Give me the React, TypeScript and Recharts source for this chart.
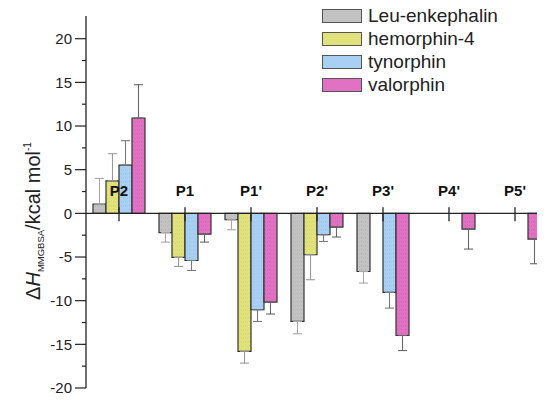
import React from 'react';
import { BarChart, Bar, XAxis, YAxis, ErrorBar, ReferenceLine, Legend } from 'recharts';

const FONT = "Arial, 'Liberation Sans', Helvetica, sans-serif";

const categories = ["P2", "P1", "P1'", "P2'", "P3'", "P4'", "P5'"];

const leuEnkephalin = [1.07, -2.2, -0.73, -12.38, -6.66, null, null];
const leuEnkephalinErr = [2.93, 1.1, 1.15, 1.41, 1.32, null, null];
const hemorphin4 = [3.73, -5.05, -15.8, -4.74, null, null, null];
const hemorphin4Err = [3.1, 1.03, 1.35, 2.86, null, null, null];
const tynorphin = [5.53, -5.4, -11.04, -2.45, -9.06, null, null];
const tynorphinErr = [2.79, 1.14, 1.34, 0.77, 1.79, null, null];
const valorphin = [10.92, -2.37, -10.16, -1.57, -13.99, -1.8, -2.94];
const valorphinErr = [3.81, 0.92, 1.37, 1.14, 1.72, 2.29, 2.83];

const yTicks = [-20, -17.5, -15, -12.5, -10, -7.5, -5, -2.5, 0, 2.5, 5, 7.5, 10, 12.5, 15, 17.5, 20];
const yMajorTicks = [-20, -15, -10, -5, 0, 5, 10, 15, 20];

const seriesNames = ['Leu-enkephalin', 'hemorphin-4', 'tynorphin', 'valorphin'];
const seriesColors = ['#c2c2c2', '#e2e27c', '#a9cff2', '#e172c3'];
const seriesDots = ['#b0b0b0', '#d2d26a', '#97c0e6', '#d062b2'];
const seriesErrColors = ['#a8a8a8', '#9a9a9a', '#7a7a7a', '#666666'];

const errPair = (v: number | null, e: number | null) =>
  v == null || e == null ? null : v >= 0 ? [0, e] : [e, 0];

const data = categories.map((cat, i) => ({
  cat,
  s0: leuEnkephalin[i],
  e0: errPair(leuEnkephalin[i], leuEnkephalinErr[i]),
  s1: hemorphin4[i],
  e1: errPair(hemorphin4[i], hemorphin4Err[i]),
  s2: tynorphin[i],
  e2: errPair(tynorphin[i], tynorphinErr[i]),
  s3: valorphin[i],
  e3: errPair(valorphin[i], valorphinErr[i]),
}));

const YTick = (props: any) => {
  const { x, y, payload } = props;
  const v = payload.value;
  const major = yMajorTicks.includes(v);
  const axisX = x + 14;
  return (
    <g>
      <line x1={major ? axisX - 11 : axisX - 4} x2={axisX} y1={y} y2={y} stroke="#222" strokeWidth={1.2} />
      {major && (
        <text x={x} y={y} dy="0.36em" textAnchor="end" fontSize={15} fill="#222" fontFamily={FONT}>
          {String(v)}
        </text>
      )}
    </g>
  );
};

const YLabel = (props: any) => {
  const vb = props.viewBox || { x: 0, y: 17, width: 86, height: 371 };
  const cx = vb.x + 40;
  const cy = vb.y + vb.height / 2 + 19;
  return (
    <text
      x={cx}
      y={cy}
      transform={`rotate(-90, ${cx}, ${cy})`}
      textAnchor="middle"
      fontSize={20}
      fill="#222"
      fontFamily={FONT}
    >
      <tspan>Δ</tspan>
      <tspan fontStyle="italic">H</tspan>
      <tspan fontSize={9.5} dy={4}>MMGBSA</tspan>
      <tspan dy={-4}>/kcal mol</tspan>
      <tspan fontSize={10} dy={-9}>-1</tspan>
    </text>
  );
};

const renderLegend = () => (
  <div style={{ fontFamily: FONT, fontSize: 19, color: '#222' }}>
    {seriesNames.map((n, i) => (
      <div key={n} style={{ display: 'flex', alignItems: 'center', height: 23, whiteSpace: 'nowrap' }}>
        <span
          style={{
            display: 'inline-block',
            width: 38,
            height: 12,
            background: seriesColors[i],
            border: '1.4px solid #555',
            marginRight: 6,
          }}
        />
        <span>{n}</span>
      </div>
    ))}
  </div>
);

export default function App() {
  return (
    <div style={{ width: 545, height: 402, overflow: 'hidden', margin: -8, position: 'relative', background: '#fff' }}>
      <svg width={0} height={0} style={{ position: 'absolute' }}>
        <defs>
          {seriesColors.map((c, i) => (
            <pattern key={i} id={`pat${i}`} width={4} height={4} patternUnits="userSpaceOnUse">
              <rect width={4} height={4} fill={c} />
              <rect x={1} y={1} width={1} height={1} fill={seriesDots[i]} />
              <rect x={3} y={2} width={1} height={1} fill={seriesDots[i]} opacity={0.6} />
            </pattern>
          ))}
        </defs>
      </svg>
      <BarChart
        width={560}
        height={402}
        data={data}
        margin={{ top: 16, right: 12, bottom: 14, left: 0 }}
        barCategoryGap={7}
        barGap={0}
      >
        <XAxis dataKey="cat" hide />
        <YAxis
          type="number"
          domain={[-20, 22.6]}
          ticks={yTicks}
          interval={0}
          width={86}
          tickSize={11}
          tickMargin={3}
          tickLine={false}
          tick={<YTick />}
          axisLine={{ stroke: '#222', strokeWidth: 1.3 }}
          label={(p: any) => <YLabel {...p} />}
          allowDataOverflow
        />
        {[0, 1, 2, 3].map((i) => (
          <Bar
            key={i}
            dataKey={`s${i}`}
            name={seriesNames[i]}
            fill={`url(#pat${i})`}
            stroke="#333"
            strokeWidth={1.2}
            isAnimationActive={false}
          >
            <ErrorBar dataKey={`e${i}`} width={4.5} stroke={seriesErrColors[i]} strokeWidth={1.1} direction="y" />
          </Bar>
        ))}
        <ReferenceLine y={0} stroke="#222" strokeWidth={1.3} />
        {categories.map((c) => (
          <ReferenceLine
            key={c}
            segment={[
              { x: c, y: 0.7 },
              { x: c, y: -0.9 },
            ]}
            stroke="#222"
            strokeWidth={1.3}
            label={{ value: c, position: 'top', offset: 11, fill: '#111', fontWeight: 'bold', fontSize: 15, fontFamily: FONT }}
          />
        ))}
        <Legend
          layout="horizontal"
          verticalAlign="middle"
          align="center"
          content={renderLegend}
          wrapperStyle={{ top: 4, left: 322, width: 'auto' }}
        />
      </BarChart>
    </div>
  );
}
